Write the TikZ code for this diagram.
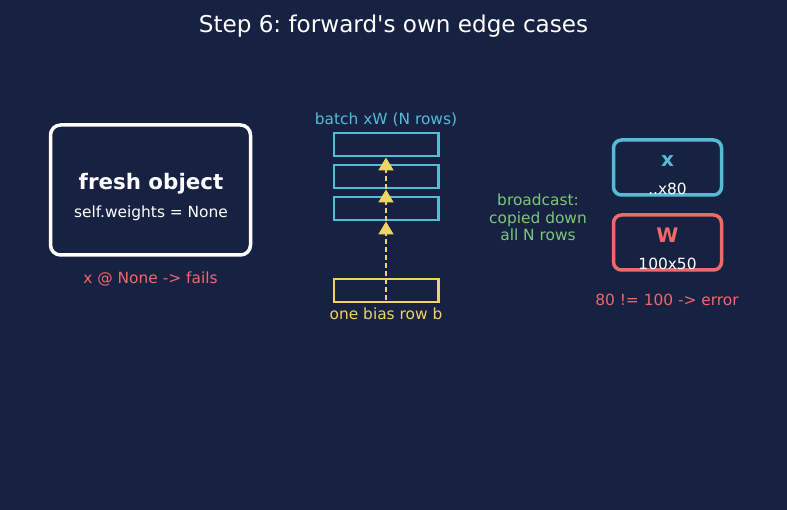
\documentclass[tikz,border=0pt]{standalone}
\usepackage{fontspec}
\setmainfont{DejaVu Sans}
\usetikzlibrary{arrows.meta}
\frenchspacing
\definecolor{bg}{HTML}{172142}
\definecolor{cyanc}{HTML}{56BCD6}
\definecolor{coral}{HTML}{F06868}
\definecolor{yel}{HTML}{F0D266}
\definecolor{grn}{HTML}{7CC878}
\tikzset{
  txt/.style={anchor=base, inner sep=0pt, font=\fontsize{15.4}{17}\selectfont},
  bigtxt/.style={anchor=base, inner sep=0pt, font=\fontsize{20}{22}\selectfont\bfseries},
  rowbox/.style={draw=cyanc, line width=2.5pt, minimum width=104.5pt, minimum height=23pt, inner sep=0pt},
  card/.style={line width=3.5pt, rounded corners=8pt, fill=bg, minimum width=108pt, minimum height=55pt, inner sep=0pt},
  flow/.style={yel, line width=2pt, dash pattern=on 5pt off 3pt, -{Triangle[length=13pt,width=15pt]}},
}
\begin{document}
\begin{tikzpicture}[x=1pt,y=-1pt]
\fill[bg] (0,0) rectangle (787,510);
\useasboundingbox (0,0) rectangle (787,510);

\node[txt, white, font=\fontsize{23.1}{25}\selectfont] (title) at (393.5,33) {Step 6: forward\textquotesingle s own edge cases};

% left card
\node[draw=white, line width=3.5pt, rounded corners=10pt, fill=bg, minimum width=200pt, minimum height=130pt, inner sep=0pt] (fresh) at (150.5,190) {};
\node[txt, white, font=\fontsize{21.4}{23}\selectfont\bfseries] (freshlbl) at (151,189.5) {fresh object};
\node[txt, white] (selfw) at (151,217.5) {self.weights = None};
\node[txt, coral] (fails) at (150.5,283.5) {x @ None -> fails};

% batch rows
\node[txt, cyanc] (batchlbl) at (386,124.8) {batch xW (N rows)};
\node[rowbox] (r1) at (386,144.5) {};
\node[rowbox] (r2) at (386,176.5) {};
\node[rowbox] (r3) at (386,208.5) {};
\node[rowbox, draw=yel] (bias) at (386,290.5) {};
\node[txt, yel] (biaslbl) at (386,319.8) {one bias row b};

\coordinate (s0) at (386,300);
\coordinate (t3) at (386,221.5);
\coordinate (t2) at (386,189.5);
\coordinate (t1) at (386,157.5);
\draw[flow] (s0) -- (t3);
\draw[flow] (t3) -- (t2);
\draw[flow] (t2) -- (t1);

% broadcast text
\node[txt, grn] (bc1) at (538,205.8) {broadcast:};
\node[txt, grn] (bc2) at (538,223.2) {copied down};
\node[txt, grn] (bc3) at (538,240.8) {all N rows};

% right cards
\node[card, draw=cyanc] (xbox) at (667.5,167.5) {};
\node[bigtxt, cyanc] (xlbl) at (667.5,166.5) {x};
\node[txt, white] (xdim) at (667.5,194.8) {..x80};
\node[card, draw=coral] (wbox) at (667.5,242.5) {};
\node[bigtxt, coral] (wlbl) at (667.5,242.5) {W};
\node[txt, white] (wdim) at (667.5,269.8) {100x50};
\node[txt, coral] (err) at (667,305.5) {80 != 100 -> error};
\end{tikzpicture}
\end{document}
